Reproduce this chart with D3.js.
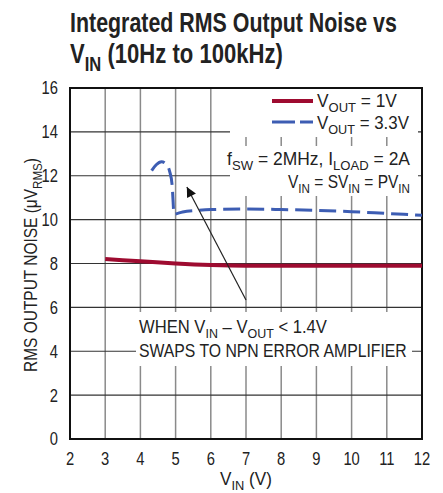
<!DOCTYPE html>
<html><head><meta charset="utf-8">
<script src="https://cdn.jsdelivr.net/npm/d3@7"></script>
<style>body{margin:0;background:#fff;} svg{display:block;}</style>
</head><body>
<svg id="c" width="443" height="493"></svg>
<script>
const xTicks = [2,3,4,5,6,7,8,9,10,11,12];
const yTicks = [0,2,4,6,8,10,12,14,16];
const vin1V = [3,4,5,6,7,8,9,10,11,12];
const noise1V = [8.2,8.1,8.0,7.93,7.9,7.9,7.9,7.9,7.9,7.9];
const vin33V = [4.32,4.45,4.6,4.72,4.83,4.9,4.93,4.95,5.2,5.6,6,7,8,9,10,11,12];
const noise33V = [12.23,12.5,12.64,12.55,12.2,11.6,10.8,10.25,10.35,10.42,10.46,10.48,10.46,10.42,10.36,10.28,10.2];

const FONT = "'Liberation Sans',Arial,sans-serif";
const RED = "#9e0b30", BLUE = "#3d5db3";
const svg = d3.select("#c");
const x = d3.scaleLinear().domain([2,12]).range([70,422]);
const y = d3.scaleLinear().domain([0,16]).range([439,88]);

function rich(g, parts, px, py, size, anchor){
  const t = g.append("text").attr("x",px).attr("y",py).attr("font-family",FONT)
    .attr("font-size",size).attr("fill","#222").attr("text-anchor",anchor||"start");
  let shifted = false;
  parts.forEach(p=>{
    const s = t.append("tspan").text(p.t);
    if(p.sub){ s.attr("font-size",size*0.75).attr("dy", shifted?0:size*0.28); shifted=true; }
    else { if(shifted){ s.attr("dy",-size*0.28); shifted=false; } }
  });
  return t;
}
function fit(t, w, extra){
  const ax = +t.attr("x");
  const bw = t.node().getBBox().width;
  const s = w / bw;
  t.attr("transform", (extra||"") + `translate(${ax},0) scale(${s},1) translate(${-ax},0)`);
  return t;
}
function scaleX(t, s){
  const ax = +t.attr("x");
  t.attr("transform", `translate(${ax},0) scale(${s},1) translate(${-ax},0)`);
}

// title
fit(svg.append("text").attr("x",70).attr("y",32).attr("font-family",FONT).attr("font-weight","bold")
  .attr("font-size",28).attr("fill","#222").text("Integrated RMS Output Noise vs"), 327);
fit(rich(svg,[{t:"V"},{t:"IN",sub:true},{t:" (10Hz to 100kHz)"}],70,63,28).attr("font-weight","bold"), 213);

// grid
const g = svg.append("g");
g.selectAll("line.v").data(xTicks.slice(1,-1)).join("line")
  .attr("x1",d=>x(d)).attr("x2",d=>x(d)).attr("y1",y(0)).attr("y2",y(16))
  .attr("stroke","#8a8a8a").attr("stroke-width",1.5);
g.selectAll("line.h").data(yTicks.slice(1,-1)).join("line")
  .attr("x1",x(2)).attr("x2",x(12)).attr("y1",d=>y(d)).attr("y2",d=>y(d))
  .attr("stroke","#333").attr("stroke-width",1.2);

// white boxes
const boxes = [[230,89,418,137],[230,146,418,196],[136,312,412,366]];
g.selectAll("rect.b").data(boxes).join("rect")
  .attr("x",d=>d[0]).attr("y",d=>d[1]).attr("width",d=>d[2]-d[0]).attr("height",d=>d[3]-d[1])
  .attr("fill","#fff");

// frame
svg.append("rect").attr("x",x(2)).attr("y",y(16)).attr("width",x(12)-x(2)).attr("height",y(0)-y(16))
  .attr("fill","none").attr("stroke","#111").attr("stroke-width",2);

// axes labels
svg.selectAll("text.yt").data(yTicks).join("text").attr("class","yt")
  .attr("x",58).attr("y",d=>y(d)+6.5).attr("text-anchor","end").attr("font-family",FONT)
  .attr("font-size",18).attr("fill","#222").text(d=>d)
  .each(function(){ scaleX(d3.select(this),0.82); });
svg.selectAll("text.xt").data(xTicks).join("text").attr("class","xt")
  .attr("x",d=>x(d)).attr("y",465).attr("text-anchor","middle").attr("font-family",FONT)
  .attr("font-size",18).attr("fill","#222").text(d=>d)
  .each(function(){ scaleX(d3.select(this),0.82); });
fit(rich(svg,[{t:"V"},{t:"IN",sub:true},{t:" (V)"}],x(7),485,17.5,"middle"), 52);
fit(rich(svg,[{t:"RMS OUTPUT NOISE (μV"},{t:"RMS",sub:true},{t:")"}],0,0,17.5,"middle"), 214,
  "translate(37,265) rotate(-90) ");

// curves
const line = d3.line().x(d=>x(d[0])).y(d=>y(d[1])).curve(d3.curveMonotoneX);
svg.append("path").datum(vin1V.map((v,i)=>[v,noise1V[i]])).attr("d",line)
  .attr("fill","none").attr("stroke",RED).attr("stroke-width",4);
svg.append("path").datum(vin33V.map((v,i)=>[v,noise33V[i]])).attr("d",line)
  .attr("fill","none").attr("stroke",BLUE).attr("stroke-width",3).attr("stroke-dasharray","17,7");

// legend
svg.append("line").attr("x1",272).attr("x2",313).attr("y1",101).attr("y2",101).attr("stroke",RED).attr("stroke-width",4);
svg.append("line").attr("x1",272).attr("x2",313).attr("y1",122).attr("y2",122).attr("stroke",BLUE).attr("stroke-width",3).attr("stroke-dasharray","23,5");
fit(rich(svg,[{t:"V"},{t:"OUT",sub:true},{t:" = 1V"}],317,107,18), 80);
fit(rich(svg,[{t:"V"},{t:"OUT",sub:true},{t:" = 3.3V"}],317,129,18), 92);
fit(rich(svg,[{t:"f"},{t:"SW",sub:true},{t:" = 2MHz, I"},{t:"LOAD",sub:true},{t:" = 2A"}],410,165,18,"end"), 183);
fit(rich(svg,[{t:"V"},{t:"IN",sub:true},{t:" = SV"},{t:"IN",sub:true},{t:" = PV"},{t:"IN",sub:true}],410,188,18,"end"), 122);

// annotation
fit(rich(svg,[{t:"WHEN V"},{t:"IN",sub:true},{t:" – V"},{t:"OUT",sub:true},{t:" < 1.4V"}],139,333,18), 188);
fit(rich(svg,[{t:"SWAPS TO NPN ERROR AMPLIFIER"}],139,357,18), 268);

// arrow
svg.append("defs").append("marker").attr("id","ah").attr("viewBox","0 0 10 10").attr("refX",10).attr("refY",5)
  .attr("markerWidth",14).attr("markerHeight",10).attr("markerUnits","userSpaceOnUse").attr("orient","auto")
  .append("path").attr("d","M0,0 L10,5 L0,10 z").attr("fill","#111");
svg.append("line").attr("x1",x(7.0)).attr("y1",y(6.34)).attr("x2",x(5.32)).attr("y2",y(11.49))
  .attr("stroke","#222").attr("stroke-width",1.2).attr("marker-end","url(#ah)");
</script>
</body></html>
